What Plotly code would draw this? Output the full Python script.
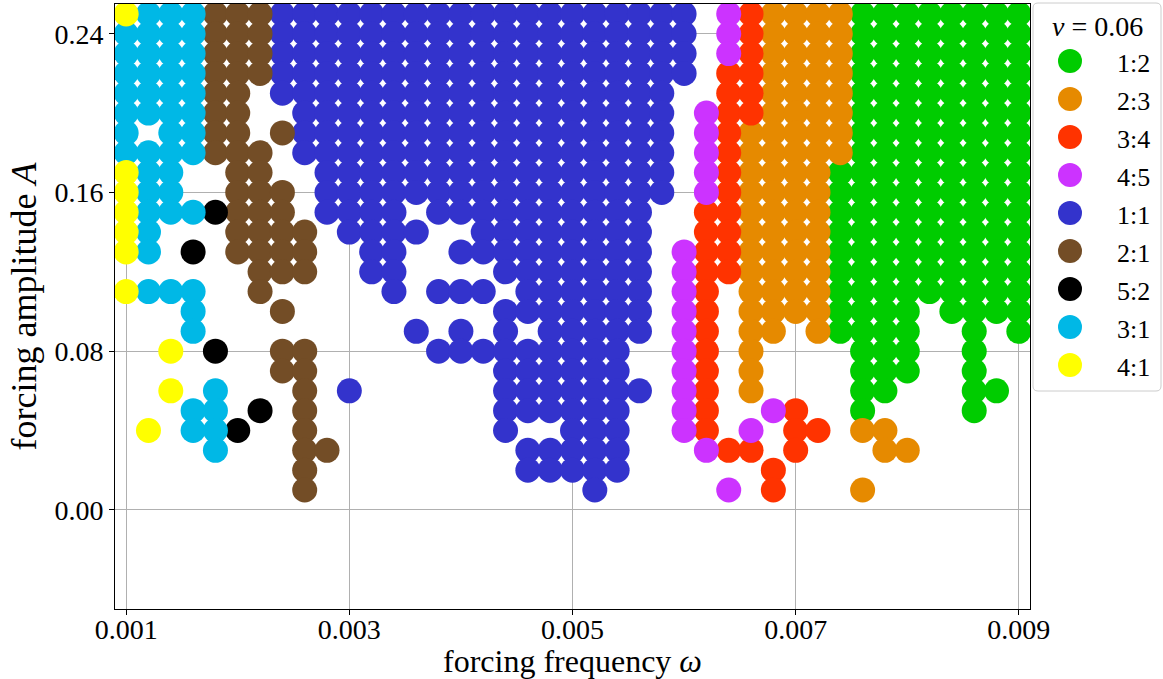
import plotly.graph_objects as go

# Mode-locking regions in the (omega, A) plane at v = 0.06.
# Each dict maps a forcing frequency omega to the forcing amplitudes A
# at which the given locking ratio was found.

LOCK_1_2 = {
    0.0074: [0.17, 0.16, 0.15, 0.14, 0.13, 0.12, 0.11, 0.10, 0.09],
    0.0076: [0.25, 0.24, 0.23, 0.22, 0.21, 0.20, 0.19, 0.18, 0.17, 0.16, 0.15,
             0.14, 0.13, 0.12, 0.11, 0.10, 0.09, 0.08, 0.07, 0.06, 0.05],
    0.0078: [0.25, 0.24, 0.23, 0.22, 0.21, 0.20, 0.19, 0.18, 0.17, 0.16, 0.15,
             0.14, 0.13, 0.12, 0.11, 0.10, 0.09, 0.08, 0.07, 0.06],
    0.0080: [0.25, 0.24, 0.23, 0.22, 0.21, 0.20, 0.19, 0.18, 0.17, 0.16, 0.15,
             0.14, 0.13, 0.12, 0.11, 0.10, 0.09, 0.08, 0.07],
    0.0082: [0.25, 0.24, 0.23, 0.22, 0.21, 0.20, 0.19, 0.18, 0.17, 0.16, 0.15,
             0.14, 0.13, 0.12, 0.11],
    0.0084: [0.25, 0.24, 0.23, 0.22, 0.21, 0.20, 0.19, 0.18, 0.17, 0.16, 0.15,
             0.14, 0.13, 0.12, 0.11, 0.10],
    0.0086: [0.25, 0.24, 0.23, 0.22, 0.21, 0.20, 0.19, 0.18, 0.17, 0.16, 0.15,
             0.14, 0.13, 0.12, 0.11, 0.10, 0.09, 0.08, 0.07, 0.06, 0.05],
    0.0088: [0.25, 0.24, 0.23, 0.22, 0.21, 0.20, 0.19, 0.18, 0.17, 0.16, 0.15,
             0.14, 0.13, 0.12, 0.11, 0.10, 0.06],
    0.0090: [0.25, 0.24, 0.23, 0.22, 0.21, 0.20, 0.19, 0.18, 0.17, 0.16, 0.15,
             0.14, 0.13, 0.12, 0.11, 0.10, 0.09],
}

LOCK_2_3 = {
    0.0066: [0.19, 0.18, 0.17, 0.16, 0.15, 0.14, 0.13, 0.12, 0.11, 0.10, 0.09,
             0.08, 0.07, 0.06],
    0.0068: [0.25, 0.24, 0.23, 0.22, 0.21, 0.20, 0.19, 0.18, 0.17, 0.16, 0.15,
             0.14, 0.13, 0.12, 0.11, 0.10, 0.09],
    0.0070: [0.25, 0.24, 0.23, 0.22, 0.21, 0.20, 0.19, 0.18, 0.17, 0.16, 0.15,
             0.14, 0.13, 0.12, 0.11, 0.10],
    0.0072: [0.25, 0.24, 0.23, 0.22, 0.21, 0.20, 0.19, 0.18, 0.17, 0.16, 0.15,
             0.14, 0.13, 0.12, 0.11, 0.10, 0.09],
    0.0074: [0.25, 0.24, 0.23, 0.22, 0.21, 0.20, 0.19, 0.18],
    0.0076: [0.04, 0.01],
    0.0078: [0.04, 0.03],
    0.0080: [0.03],
}

LOCK_3_4 = {
    0.0062: [0.15, 0.14, 0.13, 0.12, 0.11, 0.10, 0.09, 0.08, 0.07, 0.06, 0.05, 0.04],
    0.0064: [0.22, 0.21, 0.20, 0.19, 0.18, 0.17, 0.16, 0.15, 0.14, 0.13, 0.12, 0.03],
    0.0066: [0.25, 0.24, 0.23, 0.22, 0.21, 0.20, 0.03],
    0.0068: [0.02, 0.01],
    0.0070: [0.05, 0.04, 0.03],
    0.0072: [0.04],
}

LOCK_4_5 = {
    0.0060: [0.13, 0.12, 0.11, 0.10, 0.09, 0.08, 0.07, 0.06, 0.05, 0.04],
    0.0062: [0.20, 0.19, 0.18, 0.17, 0.16, 0.03],
    0.0064: [0.25, 0.24, 0.23, 0.01],
    0.0066: [0.04],
    0.0068: [0.05],
}

LOCK_1_1 = {
    0.0024: [0.25, 0.24, 0.23, 0.22, 0.21],
    0.0026: [0.25, 0.24, 0.23, 0.22, 0.21, 0.20, 0.19, 0.18],
    0.0028: [0.25, 0.24, 0.23, 0.22, 0.21, 0.20, 0.19, 0.18, 0.17, 0.16, 0.15],
    0.0030: [0.25, 0.24, 0.23, 0.22, 0.21, 0.20, 0.19, 0.18, 0.17, 0.16, 0.15,
             0.14, 0.06],
    0.0032: [0.25, 0.24, 0.23, 0.22, 0.21, 0.20, 0.19, 0.18, 0.17, 0.16, 0.15,
             0.14, 0.13, 0.12],
    0.0034: [0.25, 0.24, 0.23, 0.22, 0.21, 0.20, 0.19, 0.18, 0.17, 0.16, 0.15,
             0.14, 0.13, 0.12, 0.11],
    0.0036: [0.25, 0.24, 0.23, 0.22, 0.21, 0.20, 0.19, 0.18, 0.17, 0.16, 0.14,
             0.09],
    0.0038: [0.25, 0.24, 0.23, 0.22, 0.21, 0.20, 0.19, 0.18, 0.17, 0.16, 0.15,
             0.11, 0.08],
    0.0040: [0.25, 0.24, 0.23, 0.22, 0.21, 0.20, 0.19, 0.18, 0.17, 0.16, 0.15,
             0.13, 0.11, 0.09, 0.08],
    0.0042: [0.25, 0.24, 0.23, 0.22, 0.21, 0.20, 0.19, 0.18, 0.17, 0.16, 0.15,
             0.14, 0.13, 0.11, 0.08],
    0.0044: [0.25, 0.24, 0.23, 0.22, 0.21, 0.20, 0.19, 0.18, 0.17, 0.16, 0.15,
             0.14, 0.13, 0.12, 0.10, 0.09, 0.08, 0.07, 0.06, 0.05, 0.04],
    0.0046: [0.25, 0.24, 0.23, 0.22, 0.21, 0.20, 0.19, 0.18, 0.17, 0.16, 0.15,
             0.14, 0.13, 0.12, 0.11, 0.10, 0.08, 0.07, 0.06, 0.05, 0.03, 0.02],
    0.0048: [0.25, 0.24, 0.23, 0.22, 0.21, 0.20, 0.19, 0.18, 0.17, 0.16, 0.15,
             0.14, 0.13, 0.12, 0.11, 0.10, 0.09, 0.08, 0.07, 0.06, 0.05, 0.03,
             0.02],
    0.0050: [0.25, 0.24, 0.23, 0.22, 0.21, 0.20, 0.19, 0.18, 0.17, 0.16, 0.15,
             0.14, 0.13, 0.12, 0.11, 0.10, 0.09, 0.08, 0.07, 0.06, 0.05, 0.04,
             0.03, 0.02],
    0.0052: [0.25, 0.24, 0.23, 0.22, 0.21, 0.20, 0.19, 0.18, 0.17, 0.16, 0.15,
             0.14, 0.13, 0.12, 0.11, 0.10, 0.09, 0.08, 0.07, 0.06, 0.05, 0.04,
             0.03, 0.02, 0.01],
    0.0054: [0.25, 0.24, 0.23, 0.22, 0.21, 0.20, 0.19, 0.18, 0.17, 0.16, 0.15,
             0.14, 0.13, 0.12, 0.11, 0.10, 0.09, 0.08, 0.07, 0.06, 0.05, 0.04,
             0.03, 0.02],
    0.0056: [0.25, 0.24, 0.23, 0.22, 0.21, 0.20, 0.19, 0.18, 0.17, 0.16, 0.15,
             0.14, 0.13, 0.12, 0.11, 0.10, 0.09, 0.06],
    0.0058: [0.25, 0.24, 0.23, 0.22, 0.21, 0.20, 0.19, 0.18, 0.17, 0.16],
    0.0060: [0.25, 0.24, 0.23, 0.22],
}

LOCK_2_1 = {
    0.0018: [0.25, 0.24, 0.23, 0.22, 0.21, 0.20, 0.19, 0.18],
    0.0020: [0.25, 0.24, 0.23, 0.22, 0.21, 0.20, 0.19, 0.18, 0.17, 0.16, 0.15,
             0.14, 0.13],
    0.0022: [0.25, 0.24, 0.23, 0.22, 0.18, 0.17, 0.16, 0.15, 0.14, 0.13, 0.12,
             0.11],
    0.0024: [0.19, 0.16, 0.15, 0.14, 0.13, 0.12, 0.10, 0.08, 0.07],
    0.0026: [0.14, 0.13, 0.12, 0.08, 0.07, 0.06, 0.05, 0.04, 0.03, 0.02, 0.01],
    0.0028: [0.03],
}

LOCK_5_2 = {
    0.0016: [0.13],
    0.0018: [0.15, 0.08],
    0.0020: [0.04],
    0.0022: [0.05],
}

LOCK_3_1 = {
    0.0010: [0.24, 0.23, 0.22, 0.21, 0.20, 0.19, 0.18],
    0.0012: [0.25, 0.24, 0.23, 0.22, 0.21, 0.20, 0.18, 0.17, 0.16, 0.15, 0.14,
             0.13, 0.11],
    0.0014: [0.25, 0.24, 0.23, 0.22, 0.21, 0.20, 0.19, 0.18, 0.17, 0.16, 0.15,
             0.11],
    0.0016: [0.25, 0.24, 0.23, 0.22, 0.21, 0.20, 0.19, 0.18, 0.15, 0.11, 0.10,
             0.09, 0.05, 0.04],
    0.0018: [0.06, 0.05, 0.04, 0.03],
}

LOCK_4_1 = {
    0.0010: [0.25, 0.17, 0.16, 0.15, 0.14, 0.13, 0.11],
    0.0012: [0.04],
    0.0014: [0.08, 0.06],
}

RATIO_LABELS = ["1:2", "2:3", "3:4", "4:5", "1:1", "2:1", "5:2", "3:1", "4:1"]
RATIO_COLORS = ["#00cc00", "#e68a00", "#ff3300", "#cc33ff", "#3333cc",
                "#734d26", "#000000", "#00b8e6", "#ffff00"]
RATIO_DATA = [LOCK_1_2, LOCK_2_3, LOCK_3_4, LOCK_4_5, LOCK_1_1,
              LOCK_2_1, LOCK_5_2, LOCK_3_1, LOCK_4_1]

LEGEND_TITLE = "<i>v</i> = 0.06"
X_TICKS = [0.001, 0.003, 0.005, 0.007, 0.009]
Y_TICKS = [0.00, 0.08, 0.16, 0.24]

FONT = "Liberation Serif"
W, H = 1163, 679
M_L, M_R, M_T, M_B = 115, 133, 4, 70
PLOT_W = W - M_L - M_R
PLOT_H = H - M_T - M_B

fig = go.Figure()

for label, color, region in zip(RATIO_LABELS, RATIO_COLORS, RATIO_DATA):
    xs, ys = [], []
    for omega, amps in region.items():
        for a in amps:
            xs.append(omega)
            ys.append(a)
    fig.add_trace(go.Scatter(
        x=xs, y=ys, mode="markers", name=label, showlegend=False,
        marker=dict(size=25, color=color, line=dict(width=0)),
        hoverinfo="x+y+name",
    ))

axis_common = dict(
    showgrid=True, gridcolor="#b0b0b0", gridwidth=1,
    zeroline=False, showline=True, linecolor="black", linewidth=1,
    mirror=True, ticks="outside", ticklen=5, tickwidth=1, tickcolor="black",
    tickfont=dict(family=FONT, size=28, color="black"),
    automargin=False,
)

fig.update_xaxes(
    range=[0.0009, 0.0091], tickvals=X_TICKS,
    ticktext=[f"{v:.3f}" for v in X_TICKS],
    ticklabelstandoff=-10,
    title=dict(text="forcing frequency <i>ω</i>",
               font=dict(family=FONT, size=32, color="black"), standoff=4),
    **axis_common,
)
fig.update_yaxes(
    range=[-0.05, 0.255], tickvals=Y_TICKS,
    ticktext=[f"{v:.2f}" for v in Y_TICKS],
    title=dict(text="forcing amplitude <i>A</i>",
               font=dict(family=FONT, size=36, color="black"), standoff=6),
    **axis_common,
)


# Legend drawn in the right margin: pixel positions converted to paper units
def paper_x(px):
    return (px - M_L) / PLOT_W


def paper_y(py):
    return (H - M_B - py) / PLOT_H


shapes = []
annotations = []

bx0, bx1, by0, by1, rad = 1033, 1161, 3, 391, 5
pts = [
    ("M", bx0 + rad, by0), ("L", bx1 - rad, by0),
    ("Q", bx1, by0, bx1, by0 + rad), ("L", bx1, by1 - rad),
    ("Q", bx1, by1, bx1 - rad, by1), ("L", bx0 + rad, by1),
    ("Q", bx0, by1, bx0, by1 - rad), ("L", bx0, by0 + rad),
    ("Q", bx0, by0, bx0 + rad, by0),
]
path = ""
for cmd, *coords in pts:
    pairs = [f"{paper_x(coords[i]):.5f},{paper_y(coords[i + 1]):.5f}"
             for i in range(0, len(coords), 2)]
    path += cmd + " ".join(pairs) + " "
shapes.append(dict(type="path", xref="paper", yref="paper", path=path + "Z",
                   fillcolor="rgba(255,255,255,0.85)",
                   line=dict(color="#cccccc", width=1), layer="above"))

annotations.append(dict(
    x=paper_x(1097), y=paper_y(26), xref="paper", yref="paper",
    text=LEGEND_TITLE, showarrow=False, xanchor="center", yanchor="middle",
    font=dict(family=FONT, size=28, color="black"),
))

for k, (label, color) in enumerate(zip(RATIO_LABELS, RATIO_COLORS)):
    cy = 61 + 38.0 * k
    shapes.append(dict(
        type="circle", xref="paper", yref="paper",
        xsizemode="pixel", ysizemode="pixel",
        xanchor=paper_x(1070), yanchor=paper_y(cy),
        x0=-12, x1=12, y0=-12, y1=12,
        fillcolor=color, line=dict(width=0), layer="above",
    ))
    annotations.append(dict(
        x=paper_x(1152), y=paper_y(cy + 2), xref="paper", yref="paper",
        text=label, showarrow=False, xanchor="right", yanchor="middle",
        font=dict(family=FONT, size=26, color="black"),
    ))

fig.update_layout(
    width=W, height=H,
    margin=dict(l=M_L, r=M_R, t=M_T, b=M_B),
    plot_bgcolor="white", paper_bgcolor="white",
    showlegend=False,
    shapes=shapes, annotations=annotations,
    font=dict(family=FONT, color="black"),
)

fig.write_html("out.html")
